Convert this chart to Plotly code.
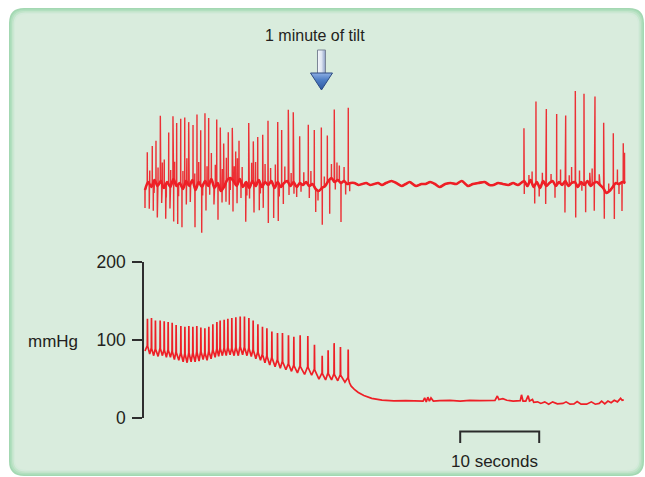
import numpy as np
import plotly.graph_objects as go

# ---------------- data ----------------
# Sympathetic nerve trace: times (s) and spike amplitudes (arbitrary units, + = up)
msna_up_t = [0.29, 0.92, 1.39, 1.94, 2.44, 3.00, 3.54, 4.01, 4.52, 5.03, 5.53, 6.08, 6.58, 7.05, 7.59, 8.06,
             9.08, 9.53, 9.96, 10.54, 11.05, 11.48, 11.90, 13.13, 13.71, 14.27, 14.90, 15.57, 16.80, 17.30,
             18.14, 18.77, 19.58, 20.67, 21.43, 22.32, 23.08, 23.96, 25.73,
             47.97, 49.49, 50.80, 52.11, 53.25, 54.47, 55.57, 56.96, 58.06, 59.28, 60.54]
msna_up_a = [32, 39, 42, 66, 28, 52, 64, 63, 66, 67, 63, 57, 72, 55, 68, 67,
             65, 62, 44, 47, 52, 33, 40, 64, 41, 45, 51, 64, 60, 56,
             73, 70, 47, 60, 57, 61, 47, 72, 76,
             53, 82, 77, 71, 66, 92, 91, 86, 66, 53, 39]
msna_dn_t = [0.00, 0.54, 1.05, 1.56, 2.11, 2.62, 3.16, 3.63, 4.14, 4.68, 5.23, 5.73, 6.33, 7.18, 7.72, 8.19,
             8.73, 9.24, 9.75, 10.25, 10.67, 11.14, 11.65, 12.15, 12.75, 13.23, 13.80, 14.47, 14.97, 15.61,
             16.29, 16.87, 17.51, 18.23, 18.86, 19.75, 20.80, 21.61, 22.44, 23.38, 24.09, 24.81, 25.91,
             48.01, 49.33, 50.72, 51.90, 53.16, 54.52, 55.78, 56.87, 58.14, 59.41, 60.38]
msna_dn_a = [-18, -25, -28, -32, -20, -34, -22, -42, -39, -40, -23, -18, -39, -46, -28, -12,
             -18, -36, -13, -19, -26, -31, -18, -16, -39, -11, -29, -29, -23, -38,
             -32, -38, -20, -11, -11, -8, -12, -23, -37, -34, -8, -39, -8,
             -13, -18, -19, -13, -31, -34, -29, -28, -29, -34, -29]
msna_small_t = [0.6, 1.15, 1.65, 2.2, 2.7, 3.25, 3.75, 4.25, 4.8, 5.3, 5.8, 6.3, 6.8, 7.3, 7.85, 8.4, 8.9,
                9.3, 9.8, 10.3, 10.8, 11.3, 11.7, 12.3, 12.9, 13.5, 14.0, 14.6, 15.2, 15.9, 16.5, 17.0,
                17.7, 18.5, 19.2, 20.1, 21.0, 21.9, 22.7, 23.6, 24.3, 24.6, 25.2, 25.4,
                48.6, 49.0, 49.9, 50.3, 51.4, 52.6, 53.7, 54.0, 55.0, 55.3, 56.3, 56.6, 57.5, 58.7,
                59.8, 60.0, 60.7]
msna_small_a = [14, -12, 18, 22, -14, 16, 20, -12, 18, 24, -15, 14, 20, -10, 18, 26, 22,
                -14, 20, 24, -12, 16, 26, 18, -12, 20, 24, -10, 18, 14, 22, -12,
                16, 12, -10, 12, 14, -10, 10, 14, 18, 16, 14, -12,
                8, 12, -10, 10, 8, 14, 10, 16, 14, -8, 12, 16, 10, 8,
                14, -10, 30]
msna_base_t = [0.0, 0.4, 0.8, 1.2, 1.6, 2.0, 2.4, 2.8, 3.2, 3.6, 4.0, 4.4, 4.8, 5.2, 5.6, 6.0, 6.4, 6.8,
               7.2, 7.6, 8.0, 8.4, 8.8, 9.2, 9.6, 10.0, 10.4, 10.8, 11.2, 11.6, 12.0, 12.4, 12.8, 13.2,
               13.6, 14.0, 14.4, 14.8, 15.2, 15.6, 16.0, 16.4, 16.8, 17.2, 17.6, 18.0, 18.4, 18.8, 19.2,
               19.6, 20.0, 20.4, 20.8, 21.2, 21.6, 22.0, 22.4, 22.8, 23.2, 23.6, 24.0, 24.4, 24.8, 25.2,
               25.6, 26.0,
               26.5, 27.0, 27.5, 28.0, 28.5, 29.0, 29.5, 30.0, 30.5, 31.2, 31.8, 32.5, 33.0, 33.5, 34.3,
               35.0, 35.5, 36.1, 36.7, 37.3, 38.0, 38.7, 39.4, 40.1, 40.9, 41.5, 42.2, 43.0, 43.6, 44.1,
               44.7, 45.3, 46.0, 46.6, 47.2,
               47.6, 48.0, 48.4, 48.8, 49.2, 49.6, 50.0, 50.4, 50.8, 51.2, 51.6, 52.0, 52.4, 52.8, 53.2,
               53.6, 54.0, 54.4, 54.8, 55.2, 55.6, 56.0, 56.4, 56.8, 57.2, 57.6, 58.0, 58.4, 58.8, 59.2,
               59.6, 60.0, 60.4, 60.8]
msna_base_v = [-6, 2, -3, 4, -2, 3, -4, 2, -3, 5, -2, 1, -5, 3, -2, 4, -6, 2,
               -3, 3, -2, 5, -4, 1, -7, -3, 4, 6, 3, -2, 5, -3, 2, -4,
               3, -2, 4, -3, 2, -1, 3, -4, 2, -3, 1, 3, -2, 2, -3,
               1, -1, 2, -2, 0, -5, -7, -4, -2, 3, 6, 2, 4, 1, 3,
               0, 1,
               1, -1, 0, 1, -1, 0, 1, -1, 1, 3, 1, -2, 0, 2, -2,
               0, 0, 2, 0, -3, 0, 1, 0, 3, -2, 0, 1, 2, -1, -1,
               1, 0, -1, 1, -1,
               1, 3, -2, 4, -3, 2, -4, 3, -2, 1, 3, -2, 2, -1, 3,
               -2, 1, 2, -3, 2, -1, 3, -2, 1, 2, -1, -4, -9, -7, -3,
               1, 0, 2, 1]

# Blood pressure (mmHg): beat times, systolic peaks, diastolic zig-zag
bp_beat_t = [0.29, 0.80, 1.30, 1.90, 2.41, 2.91, 3.42, 3.92, 4.52, 5.03, 5.53, 6.04, 6.54, 7.05, 7.56, 8.06,
             8.57, 9.08, 9.49, 10.00, 10.47, 10.97, 11.48, 12.03, 12.57, 13.13, 13.67, 14.27, 14.85, 15.41,
             16.04, 16.75, 17.38, 18.14, 18.82, 19.62, 20.59, 21.43, 22.41, 23.16, 23.92, 24.72, 25.70]
bp_sys = [127, 128, 125, 125, 124, 123, 122, 119, 118, 117, 118, 117, 118, 116, 115, 117,
          120, 123, 125, 126, 127, 128, 129, 130, 130, 128, 125, 120, 117, 115,
          111, 109, 109, 106, 104, 106, 105, 94, 80, 87, 96, 91, 88]
bp_dia_hi = [93, 90, 89, 90, 88, 88, 86, 85, 84, 83, 84, 84, 85, 86, 84, 86,
             88, 89, 90, 90, 91, 90, 91, 92, 91, 90, 88, 85, 82, 80,
             78, 75, 73, 70, 68, 67, 66, 63, 58, 58, 57, 56, 52]
bp_dia_lo = [82, 80, 79, 80, 78, 78, 75, 74, 72, 71, 72, 72, 73, 75, 74, 76,
             78, 79, 80, 80, 81, 80, 80, 81, 80, 79, 76, 74, 71, 68,
             66, 64, 62, 60, 58, 56, 55, 50, 49, 49, 48, 46, 44]
bp_tail_t = [25.9, 26.1, 26.5, 27.0, 27.7, 28.7, 30.0, 31.5, 33.0, 34.8, 35.2, 35.4, 35.6, 35.8, 36.0, 36.2,
             36.5, 37.3, 38.6, 39.9, 41.1, 42.4, 43.7, 44.3, 44.6, 44.8, 45.3, 45.8, 46.6, 47.5, 47.66,
             47.85, 48.2, 48.5, 48.67, 49.05, 49.2, 49.7, 50.1, 50.6, 51.1, 51.6, 52.2, 52.9, 53.3, 53.8,
             54.3, 54.7, 55.2, 55.9, 56.5, 57.0, 57.5, 57.8, 58.2, 58.6, 59.0, 59.4, 59.8, 60.2, 60.4, 60.6]
bp_tail_v = [45, 41, 37, 33, 29, 25.5, 23.3, 22.3, 22.5, 22.3, 22, 26, 21, 27, 22, 26,
             22, 22.5, 22.8, 22, 23, 22.5, 22.5, 23, 28.5, 24, 25, 23, 22, 22.5, 30,
             22, 22, 29, 22, 24, 20.5, 21, 19, 21, 18, 21, 18.5, 19, 21, 18,
             18.5, 21.5, 18, 18, 21, 18, 19, 22, 18.5, 22, 20, 23, 21, 25.5, 23, 23.5]

bp_ticks = [0, 100, 200]
tilt_time = 22.34          # s, start of "1 minute of tilt"
scale_start, scale_len = 39.9, 10   # s, scale bar
tilt_label = "1 minute of tilt"
scale_label = "10 seconds"
unit_label = "mmHg"

# ---------------- build traces ----------------
RED = "#ee1f26"
TXT = "#231f20"
FONT = "Liberation Sans, Arial, sans-serif"
W, H = 645, 477

bt = np.array(msna_base_t, float)
bv = np.array(msna_base_v, float)
pts = list(zip(bt, bv))
for ts, am in [(msna_up_t, msna_up_a), (msna_dn_t, msna_dn_a), (msna_small_t, msna_small_a)]:
    for t, a in zip(ts, am):
        b = float(np.interp(t, bt, bv))
        pts += [(t - 0.012, b), (t, b + a), (t + 0.012, b)]
pts.sort(key=lambda p: p[0])
nx = [p[0] for p in pts]
ny = [p[1] for p in pts]

bx, by = [0.0], [86]
n = len(bp_beat_t)
for i in range(n):
    t = bp_beat_t[i]
    bx += [t, t + 0.02, t + 0.05]
    by += [bp_dia_hi[i], bp_sys[i], bp_dia_hi[i] - 1]
    if i < n - 1:
        bx.append(t + 0.6 * (bp_beat_t[i + 1] - t))
        by.append(bp_dia_lo[i])
bx += bp_tail_t
by += bp_tail_v

fig = go.Figure()
# thick, smoothed baseline of the nerve record
fig.add_trace(go.Scatter(x=msna_base_t, y=msna_base_v, mode="lines",
                         line=dict(color=RED, width=2.6, shape="spline", smoothing=0.8),
                         xaxis="x", yaxis="y", hoverinfo="skip", showlegend=False))
# spikes
fig.add_trace(go.Scatter(x=nx, y=ny, mode="lines", line=dict(color=RED, width=1.4),
                         opacity=0.92, xaxis="x", yaxis="y", hoverinfo="skip", showlegend=False))
fig.add_trace(go.Scatter(x=bx, y=by, mode="lines", line=dict(color=RED, width=1.7),
                         xaxis="x", yaxis="y3", hoverinfo="skip", showlegend=False))

# arrow (in nerve-axis units: 1 unit = 1 px, seconds on x)
sh = 4 / 7.9
hh = 11 / 7.9
fig.add_trace(go.Scatter(x=[tilt_time - sh, tilt_time + sh, tilt_time + sh, tilt_time - sh, tilt_time - sh],
                         y=[134, 134, 110, 110, 134], mode="lines", fill="toself",
                         line=dict(color="#7b8595", width=1),
                         fillgradient=dict(type="horizontal",
                                           colorscale=[[0, "#f6f8fc"], [0.5, "#dfe6f2"], [1, "#8c9fc6"]]),
                         xaxis="x", yaxis="y", hoverinfo="skip", showlegend=False))
fig.add_trace(go.Scatter(x=[tilt_time - hh, tilt_time + hh, tilt_time, tilt_time - hh],
                         y=[111, 111, 94, 111], mode="lines", fill="toself",
                         line=dict(color="#2c4a82", width=1),
                         fillgradient=dict(type="vertical",
                                           colorscale=[[0, "#2d579f"], [0.6, "#4f7fc6"], [1, "#8fb0e4"]]),
                         xaxis="x", yaxis="y", hoverinfo="skip", showlegend=False))


# ---------------- panel background ----------------
def rrect(x0, y0, x1, y1, r):
    fx = lambda x: x / W
    fy = lambda y: 1 - y / H
    p = (f"M {fx(x0 + r)},{fy(y0)} L {fx(x1 - r)},{fy(y0)} Q {fx(x1)},{fy(y0)} {fx(x1)},{fy(y0 + r)} "
         f"L {fx(x1)},{fy(y1 - r)} Q {fx(x1)},{fy(y1)} {fx(x1 - r)},{fy(y1)} "
         f"L {fx(x0 + r)},{fy(y1)} Q {fx(x0)},{fy(y1)} {fx(x0)},{fy(y1 - r)} "
         f"L {fx(x0)},{fy(y0 + r)} Q {fx(x0)},{fy(y0)} {fx(x0 + r)},{fy(y0)} Z")
    return p


shapes = []
layers = [(0, "#a3d8b2", 15), (1.5, "#b2dfbf", 14), (3, "#c3e5cb", 13), (4.5, "#d3eada", 12), (6, "#d9ecdd", 11)]
for off, col, r in layers:
    shapes.append(dict(type="path", path=rrect(9 + off, 8 + off, 644 - off, 476 - off, r),
                       xref="paper", yref="paper", fillcolor=col, line=dict(width=0), layer="below"))

# scale bar
yb_top = 1 - 431.5 / H
yb_bot = 1 - 443 / H
shapes.append(dict(type="path",
                   path=f"M {scale_start},{yb_bot} L {scale_start},{yb_top} L {scale_start + scale_len},{yb_top} "
                        f"L {scale_start + scale_len},{yb_bot}",
                   xref="x", yref="paper", line=dict(color="#2b2b2b", width=2)))

annotations = [
    dict(text=tilt_label, x=tilt_time, xref="x", y=1 - 35 / H, yref="paper", showarrow=False,
         xanchor="center", yanchor="middle", xshift=-6, font=dict(family=FONT, size=16, color=TXT)),
    dict(text=scale_label, x=scale_start + scale_len / 2, xref="x", y=1 - 461 / H, yref="paper",
         xanchor="center", yanchor="middle", showarrow=False, xshift=-5,
         font=dict(family=FONT, size=17, color=TXT)),
    dict(text=unit_label, x=53 / W, xref="paper", y=1 - 341 / H, yref="paper", showarrow=False,
         xanchor="center", yanchor="middle", font=dict(family=FONT, size=17, color=TXT)),
]

px_per_s = 7.9
x0px = 145
fig.update_layout(
    width=W, height=H, margin=dict(l=0, r=0, t=0, b=0, pad=0, autoexpand=False),
    paper_bgcolor="white", plot_bgcolor="rgba(0,0,0,0)",
    xaxis=dict(domain=[0, 1], range=[-x0px / px_per_s, (W - x0px) / px_per_s], visible=False,
               fixedrange=True, automargin=False),
    yaxis=dict(domain=[0, 1], range=[184 - H, 184], visible=False, fixedrange=True, automargin=False),
    yaxis3=dict(domain=[(H - 418.3) / H, (H - 261.7) / H], range=[0, 200], anchor="free",
                position=143.3 / W, showline=True, linecolor="#2e2e2e", linewidth=2,
                ticks="outside", ticklen=10, tickwidth=2, tickcolor="#2e2e2e",
                tickvals=bp_ticks, ticktext=[str(v) for v in bp_ticks], automargin=False,
                ticklabelstandoff=3,
                tickfont=dict(family=FONT, size=17.5, color=TXT), showgrid=False, zeroline=False,
                fixedrange=True),
    shapes=shapes, annotations=annotations, showlegend=False,
)
fig.write_html("out.html", config={"displayModeBar": False, "staticPlot": True},
               post_script="document.body.style.margin='0px';")
